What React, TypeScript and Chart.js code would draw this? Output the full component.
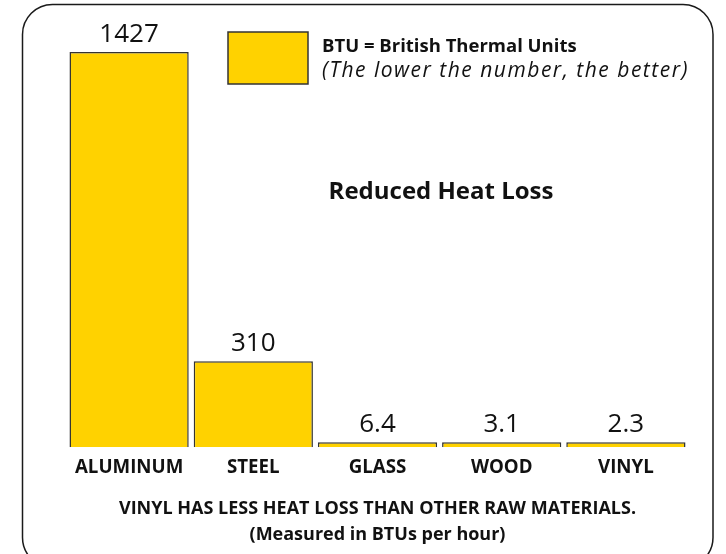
import React, { useEffect, useRef } from "react";
import { Chart, registerables } from "chart.js";

Chart.register(...registerables);

const categories = ["ALUMINUM", "STEEL", "GLASS", "WOOD", "VINYL"];
const btuValues = [1427, 310, 6.4, 3.1, 2.3];
const valueLabels = ["1427", "310", "6.4", "3.1", "2.3"];
const legendTitle = "BTU = British Thermal Units";
const legendNote = "(The lower the number, the better)";
const chartTitle = "Reduced Heat Loss";
const captionLines = [
  "VINYL HAS LESS HEAT LOSS THAN OTHER RAW MATERIALS.",
  "(Measured in BTUs per hour)",
];

const FONT = "'Open Sans', 'Noto Sans', 'DejaVu Sans', sans-serif";
const BAR_COLOR = "#FFD200";
const BAR_BORDER = "#333333";
const TEXT = "#111111";

const framePlugin = {
  id: "frame",
  beforeDraw(chart: any) {
    const ctx = chart.ctx;
    ctx.save();
    ctx.fillStyle = "#ffffff";
    ctx.fillRect(0, 0, chart.width, chart.height);
    ctx.beginPath();
    ctx.roundRect(22.5, 4.5, 690.5, 563, 30);
    ctx.lineWidth = 1.5;
    ctx.strokeStyle = "#1a1a1a";
    ctx.stroke();
    ctx.restore();
  },
};

const annotationsPlugin = {
  id: "annotations",
  afterDatasetsDraw(chart: any) {
    const ctx = chart.ctx;
    ctx.save();
    const meta = chart.getDatasetMeta(0);
    ctx.fillStyle = TEXT;
    ctx.font = `400 26px ${FONT}`;
    ctx.textAlign = "center";
    ctx.textBaseline = "alphabetic";
    meta.data.forEach((el: any, i: number) => {
      ctx.fillText(valueLabels[i], el.x, el.y - 10);
    });

    ctx.fillStyle = BAR_COLOR;
    ctx.fillRect(228, 32, 80, 52);
    ctx.lineWidth = 1.5;
    ctx.strokeStyle = BAR_BORDER;
    ctx.strokeRect(228, 32, 80, 52);

    ctx.fillStyle = TEXT;
    ctx.textAlign = "left";
    ctx.font = `700 18.5px ${FONT}`;
    ctx.fillText(legendTitle, 322, 52);
    ctx.font = `italic 400 21px ${FONT}`;
    (ctx as any).letterSpacing = "1.5px";
    ctx.fillText(legendNote, 322, 77);
    (ctx as any).letterSpacing = "0px";

    ctx.textAlign = "center";
    ctx.font = `700 24px ${FONT}`;
    ctx.fillText(chartTitle, 441, 199);
    ctx.restore();
  },
};

export default function App() {
  const canvasRef = useRef<HTMLCanvasElement | null>(null);

  useEffect(() => {
    if (!canvasRef.current) return;
    const chart = new Chart(canvasRef.current, {
      type: "bar",
      data: {
        labels: categories,
        datasets: [
          {
            data: btuValues,
            backgroundColor: BAR_COLOR,
            borderColor: BAR_BORDER,
            borderWidth: 1.5,
            barPercentage: 0.96,
            categoryPercentage: 1,
            minBarLength: 5,
          },
        ],
      },
      options: {
        responsive: false,
        animation: false,
        layout: { padding: { left: 67, right: 38, top: 52, bottom: 7 } },
        scales: {
          x: {
            grid: { display: false },
            border: { display: false },
            ticks: {
              color: TEXT,
              font: { family: FONT, size: 18.7, weight: "bold" },
              padding: 1,
              maxRotation: 0,
              autoSkip: false,
            },
          },
          y: { display: false, min: 0, max: 1427 },
        },
        plugins: {
          legend: { display: false },
          tooltip: { enabled: false },
          title: {
            display: true,
            position: "bottom",
            text: captionLines,
            color: TEXT,
            font: { family: FONT, size: 18, weight: "bold", lineHeight: 1.4 },
            padding: { top: 17, bottom: 0 },
          },
        },
      },
      plugins: [framePlugin, annotationsPlugin],
    });
    return () => chart.destroy();
  }, []);

  return (
    <div style={{ position: "absolute", left: 0, top: 0, width: 726, height: 554 }}>
      <canvas ref={canvasRef} width={726} height={554} style={{ display: "block" }} />
    </div>
  );
}
